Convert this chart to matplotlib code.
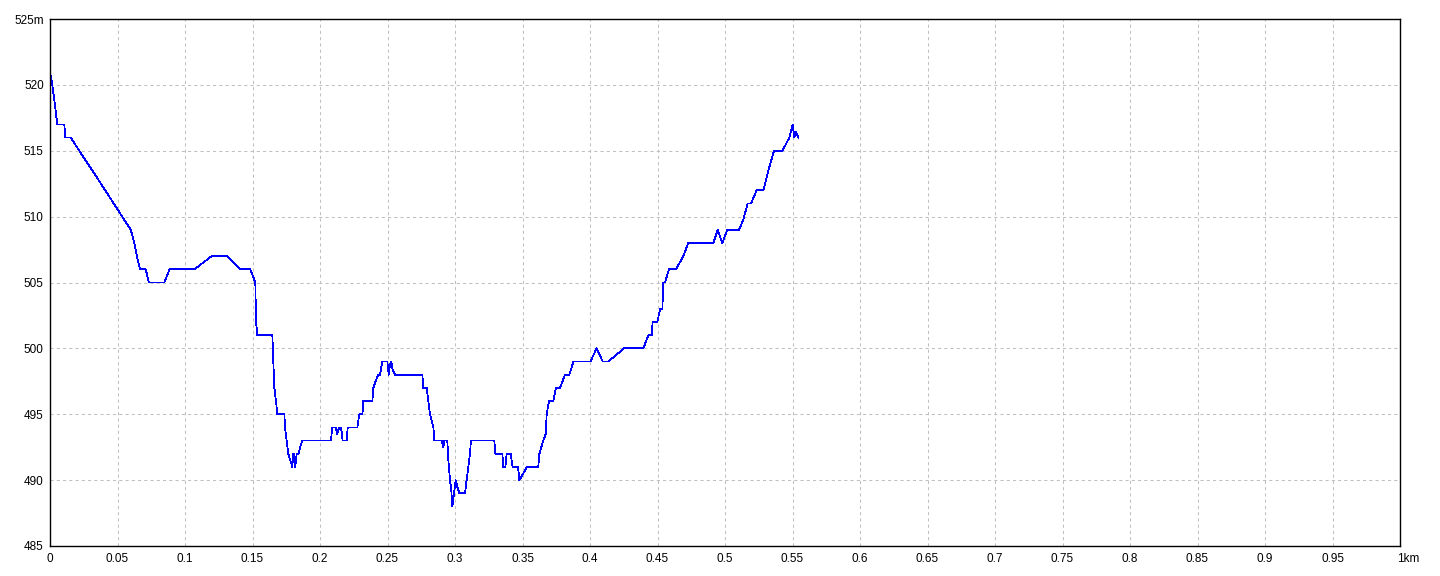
import matplotlib
matplotlib.use("Agg")
import matplotlib.pyplot as plt
import matplotlib.transforms as mtrans
from matplotlib.ticker import FixedLocator

plt.rcParams['font.family'] = ['Liberation Sans', 'DejaVu Sans']

dist_km = [
    0.0000, 0.0017, 0.0030, 0.0042, 0.0054, 0.0106, 0.0114, 0.0153, 0.0371,
    0.0598, 0.0625, 0.0644, 0.0667, 0.0709, 0.0733, 0.0847, 0.0886, 0.1069,
    0.1198, 0.1309, 0.1413, 0.1484, 0.1521, 0.1526, 0.1536, 0.1647, 0.1654,
    0.1662, 0.1674, 0.1684, 0.1736, 0.1741, 0.1753, 0.1765, 0.1795, 0.1802,
    0.1810, 0.1817, 0.1827, 0.1842, 0.1852, 0.1869, 0.2081, 0.2091, 0.2116,
    0.2128, 0.2141, 0.2156, 0.2168, 0.2198, 0.2205, 0.2277, 0.2291, 0.2314,
    0.2321, 0.2388, 0.2395, 0.2412, 0.2432, 0.2444, 0.2462, 0.2499, 0.2509,
    0.2519, 0.2528, 0.2538, 0.2556, 0.2758, 0.2765, 0.2790, 0.2802, 0.2815,
    0.2840, 0.2847, 0.2901, 0.2914, 0.2921, 0.2943, 0.2951, 0.2963, 0.2973,
    0.2980, 0.2993, 0.3005, 0.3017, 0.3032, 0.3074, 0.3086, 0.3099, 0.3111,
    0.3118, 0.3291, 0.3299, 0.3351, 0.3358, 0.3373, 0.3383, 0.3412, 0.3427,
    0.3467, 0.3477, 0.3533, 0.3617, 0.3625, 0.3654, 0.3672, 0.3679, 0.3696,
    0.3728, 0.3748, 0.3778, 0.3815, 0.3847, 0.3877, 0.4003, 0.4049, 0.4094,
    0.4136, 0.4252, 0.4395, 0.4432, 0.4457, 0.4464, 0.4499, 0.4519, 0.4536,
    0.4543, 0.4556, 0.4585, 0.4637, 0.4691, 0.4728, 0.4914, 0.4946, 0.4980,
    0.5017, 0.5104, 0.5136, 0.5168, 0.5193, 0.5235, 0.5284, 0.5321, 0.5363,
    0.5425, 0.5477, 0.5501, 0.5514, 0.5526, 0.5543,
]
elev_m = [
    521, 520, 519, 518, 517, 517, 516, 516, 512.6,
    509, 508, 507, 506, 506, 505, 505, 506, 506,
    507, 507, 506, 506, 505, 502, 501, 501, 499,
    497, 496, 495, 495, 494, 493, 492, 491, 492,
    492, 491, 492, 492, 492.5, 493, 493, 494, 494,
    493.5, 494, 494, 493, 493, 494, 494, 495, 495,
    496, 496, 497, 497.5, 498, 498, 499, 499, 498,
    498.8, 499, 498.4, 498, 498, 497, 497, 496, 495,
    494, 493, 493, 492.5, 493, 493, 491.5, 490, 489.2,
    488, 489, 490, 489.5, 489, 489, 490, 491, 492,
    493, 493, 492, 492, 491, 491, 492, 492, 491,
    491, 490, 491, 491, 492, 493, 493.5, 495, 496,
    496, 497, 497, 498, 498, 499, 499, 500, 499,
    499, 500, 500, 501, 501, 502, 502, 503, 503,
    505, 505, 506, 506, 507, 508, 508, 509, 508,
    509, 509, 509.8, 511, 511, 512, 512, 513.5, 515,
    515, 516, 517, 516, 516.4, 516,
]

x_ticks = [0, 0.05, 0.1, 0.15, 0.2, 0.25, 0.3, 0.35, 0.4, 0.45, 0.5,
           0.55, 0.6, 0.65, 0.7, 0.75, 0.8, 0.85, 0.9, 0.95, 1.0]
x_labels = ["0", "0.05", "0.1", "0.15", "0.2", "0.25", "0.3", "0.35", "0.4",
            "0.45", "0.5", "0.55", "0.6", "0.65", "0.7", "0.75", "0.8",
            "0.85", "0.9", "0.95", "1km"]
y_ticks = [485, 490, 495, 500, 505, 510, 515, 520, 525]
y_labels = ["485", "490", "495", "500", "505", "510", "515", "520", "525m"]

W, H = 1440, 576
fig = plt.figure(figsize=(W / 100, H / 100), dpi=100)
fig.patch.set_facecolor("white")
ax = fig.add_axes([50 / W, (H - 546) / H, 1350 / W, 527 / H])

ax.plot(dist_km, elev_m, color="#0000ff", lw=0.55, antialiased=False)

ax.set_xlim(0, 1)
ax.set_ylim(485, 525)
ax.xaxis.set_major_locator(FixedLocator(x_ticks))
ax.yaxis.set_major_locator(FixedLocator(y_ticks))
ax.set_xticklabels(x_labels)
ax.set_yticklabels(y_labels)
ax.tick_params(axis="both", length=0, labelsize=8.5, colors="black")
ax.tick_params(axis="x", pad=5)
ax.tick_params(axis="y", pad=4.5)
# last x label: the "1" sits at the tick, "km" trails to the right
last = ax.get_xticklabels()[-1]
last.set_horizontalalignment("left")
last.set_transform(last.get_transform() + mtrans.ScaledTranslation(-3 / 100, 0, fig.dpi_scale_trans))

ax.grid(True, color="#c0c0c0", linestyle=(0, (3, 3)), lw=0.75)
ax.set_axisbelow(True)
for s in ax.spines.values():
    s.set_color("black")
    s.set_linewidth(1.0)

fig.savefig("out.png", dpi=100)
